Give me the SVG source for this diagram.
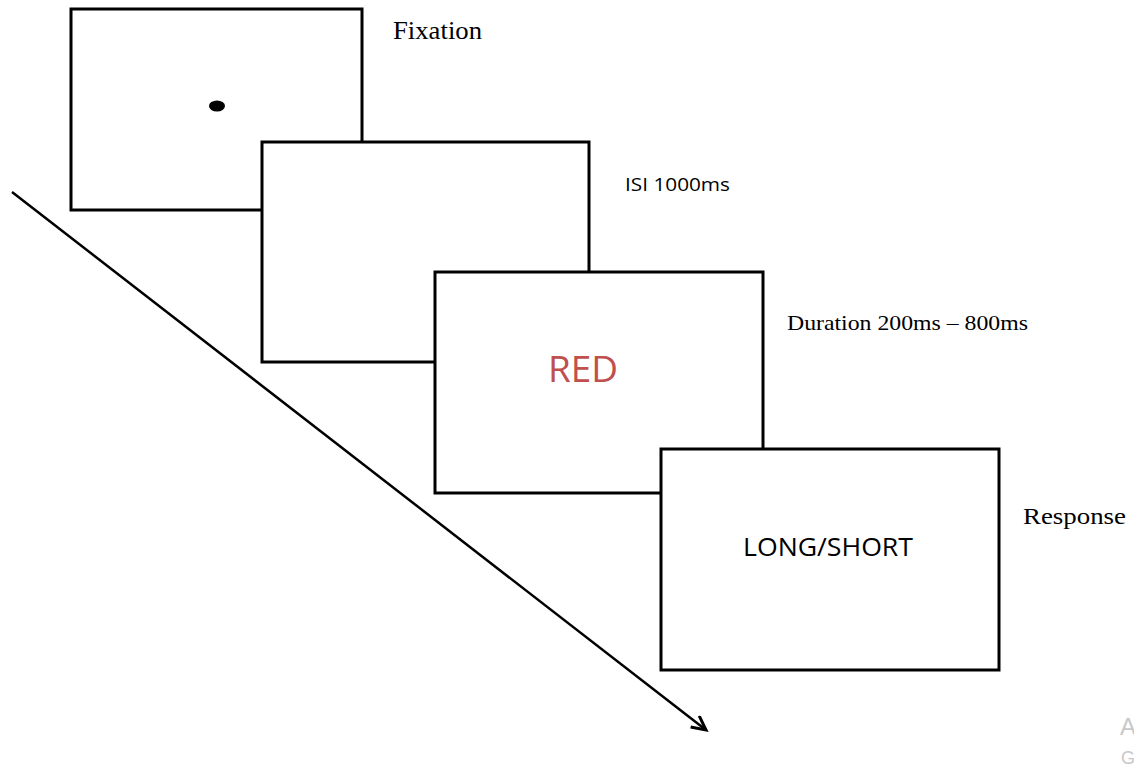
<svg xmlns="http://www.w3.org/2000/svg" width="1134" height="768" viewBox="0 0 1134 768">
<style>
.box{fill:#fff;stroke:#000;stroke-width:3}
.serif{font-family:"Liberation Serif","Times New Roman",serif;fill:#000}
.sans{font-family:"Open Sans","Noto Sans","Liberation Sans",sans-serif;fill:#000}
.wm{font-family:"Liberation Sans",sans-serif;fill:#c8c8c8}
</style>
<defs>
<marker id="ah" markerWidth="20" markerHeight="20" refX="16" refY="8" orient="auto" markerUnits="userSpaceOnUse">
<path d="M2,1 L16,8 L2,15" fill="none" stroke="#000" stroke-width="3"/>
</marker>
</defs>
<rect width="1134" height="768" fill="#fff"/>
<g id="connectors">
<line x1="12" y1="192" x2="706" y2="730" stroke="#000" stroke-width="2.5" marker-end="url(#ah)"/>
</g>
<g id="fixation">
<rect class="box" x="71" y="9" width="291" height="201"/>
<ellipse cx="217" cy="106" rx="8" ry="5.5" fill="#000"/>
<text class="serif" x="393" y="39" font-size="25" textLength="89" lengthAdjust="spacingAndGlyphs">Fixation</text>
</g>
<g id="isi">
<rect class="box" x="262" y="142" width="327" height="220"/>
<text class="sans" x="625" y="191" font-size="18" textLength="105" lengthAdjust="spacingAndGlyphs">ISI 1000ms</text>
</g>
<g id="duration">
<rect class="box" x="435" y="272" width="328" height="221"/>
<text class="sans" x="548" y="382" font-size="36" style="fill:#c0504d" textLength="70" lengthAdjust="spacingAndGlyphs">RED</text>
<text class="serif" x="787" y="330" font-size="22" textLength="241" lengthAdjust="spacingAndGlyphs">Duration 200ms – 800ms</text>
</g>
<g id="response">
<rect class="box" x="661" y="449" width="338" height="221"/>
<text class="sans" x="743" y="556" font-size="26" textLength="170" lengthAdjust="spacingAndGlyphs">LONG/SHORT</text>
<text class="serif" x="1023" y="524" font-size="24" textLength="103" lengthAdjust="spacingAndGlyphs">Response</text>
</g>
<text class="wm" x="1120" y="735" font-size="24">A</text>
<text class="wm" x="1121" y="764" font-size="18">G</text>
</svg>
